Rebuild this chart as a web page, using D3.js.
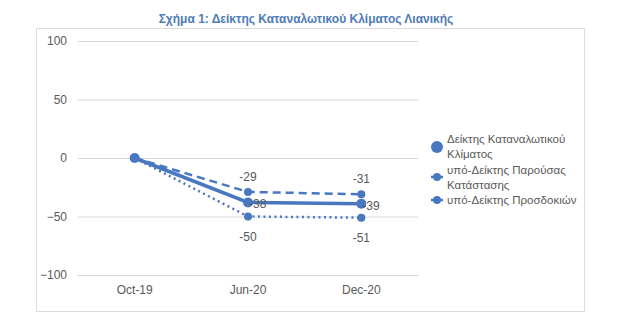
<!DOCTYPE html>
<html>
<head>
<meta charset="utf-8">
<script src="https://cdn.jsdelivr.net/npm/d3@7"></script>
<style>
  html, body { margin: 0; padding: 0; background: #ffffff; }
  svg { display: block; }
  text { font-family: "Liberation Sans Narrow", "Liberation Sans", Arial, sans-serif; }
</style>
</head>
<body>
<svg id="chart" width="625" height="326"></svg>
<script>
// Chart data
const categories = ["Oct-19", "Jun-20", "Dec-20"];
const overallIndex = [0, -38, -39];
const presentIndex = [0, -29, -31];
const expectIndex = [0, -50, -51];
const yTicks = [100, 50, 0, -50, -100];
const seriesNames = [
  ["Δείκτης Καταναλωτικού", "Κλίματος"],
  ["υπό-Δείκτης Παρούσας", "Κατάστασης"],
  ["υπό-Δείκτης Προσδοκιών"]
];
const titleText = "Σχήμα 1: Δείκτης Καταναλωτικού Κλίματος Λιανικής";

const blue = "#4a78c0";
const grey = "#595959";

const series = [
  { name: seriesNames[0], values: overallIndex, width: 3.5, dash: null, r: 5, labelPos: "right" },
  { name: seriesNames[1], values: presentIndex, width: 2.5, dash: "8,5", r: 4, labelPos: "above" },
  { name: seriesNames[2], values: expectIndex, width: 2.5, dash: "2,3.5", r: 4, labelPos: "below" }
];

const svg = d3.select("#chart");

// Title
svg.append("text")
  .attr("x", 306).attr("y", 23)
  .attr("text-anchor", "middle")
  .attr("font-size", 12)
  .attr("font-weight", "bold")
  .attr("fill", "#4f7cb8")
  .text(titleText);

// Chart frame
svg.append("rect")
  .attr("x", 36.5).attr("y", 28.5)
  .attr("width", 548).attr("height", 283)
  .attr("fill", "none")
  .attr("stroke", "#dcdcdc");

const plot = { left: 78, right: 418, top: 41, bottom: 275 };

const x = d3.scaleBand().domain(categories).range([plot.left, plot.right]);
const y = d3.scaleLinear().domain([-100, 100]).range([plot.bottom, plot.top]);
const cx = c => x(c) + x.bandwidth() / 2;

// Horizontal gridlines + y tick labels
const yAxis = d3.axisLeft(y).tickValues(yTicks).tickSize(-(plot.right - plot.left)).tickPadding(11);
const gy = svg.append("g").attr("transform", `translate(${plot.left},0)`).call(yAxis);
gy.select(".domain").remove();
gy.selectAll(".tick line").attr("stroke", "#d9d9d9").attr("stroke-width", 1);
gy.selectAll(".tick text").attr("fill", grey).attr("font-size", 12);

// X axis labels
const xAxis = d3.axisBottom(x).tickSize(0).tickPadding(10);
const gx = svg.append("g").attr("transform", `translate(0,${plot.bottom})`).call(xAxis);
gx.select(".domain").remove();
gx.selectAll(".tick text").attr("fill", grey).attr("font-size", 12);

const line = d3.line().x((d, i) => cx(categories[i])).y(d => y(d));

// Lines, markers (drawn back to front)
[...series].reverse().forEach(s => {
  svg.append("path")
    .datum(s.values)
    .attr("d", line)
    .attr("fill", "none")
    .attr("stroke", blue)
    .attr("stroke-width", s.width)
    .attr("stroke-dasharray", s.dash);
  svg.append("g").selectAll("circle")
    .data(s.values)
    .join("circle")
    .attr("cx", (d, i) => cx(categories[i]))
    .attr("cy", d => y(d))
    .attr("r", s.r)
    .attr("fill", blue);
});

// Value labels
series.forEach(s => {
  svg.append("g").selectAll("text")
    .data(s.values.map((v, i) => ({ v, i })).filter(d => d.i > 0))
    .join("text")
    .attr("x", d => cx(categories[d.i]) + (s.labelPos === "right" ? 1 : 0))
    .attr("y", d => y(d.v) + (s.labelPos === "above" ? -11 : s.labelPos === "below" ? 24 : 6))
    .attr("text-anchor", s.labelPos === "right" ? "start" : "middle")
    .attr("fill", grey)
    .attr("font-size", 12)
    .text(d => d.v);
});

// Legend
const legend = svg.append("g");
const legendRows = [
  { lines: seriesNames[0], y: 139, markerY: 147, r: 6, stub: false },
  { lines: seriesNames[1], y: 170, markerY: 177, r: 4, stub: true },
  { lines: seriesNames[2], y: 200, markerY: 200, r: 4, stub: true }
];
legendRows.forEach(row => {
  if (row.stub) {
    legend.append("line")
      .attr("x1", 431).attr("x2", 443)
      .attr("y1", row.markerY).attr("y2", row.markerY)
      .attr("stroke", blue).attr("stroke-width", 2.5);
  }
  legend.append("circle")
    .attr("cx", 437).attr("cy", row.markerY).attr("r", row.r).attr("fill", blue);
  row.lines.forEach((t, k) => {
    legend.append("text")
      .attr("x", 447).attr("y", row.y + k * 15 + 4)
      .attr("fill", grey)
      .attr("font-size", 11.5)
      .text(t);
  });
});
</script>
</body>
</html>
